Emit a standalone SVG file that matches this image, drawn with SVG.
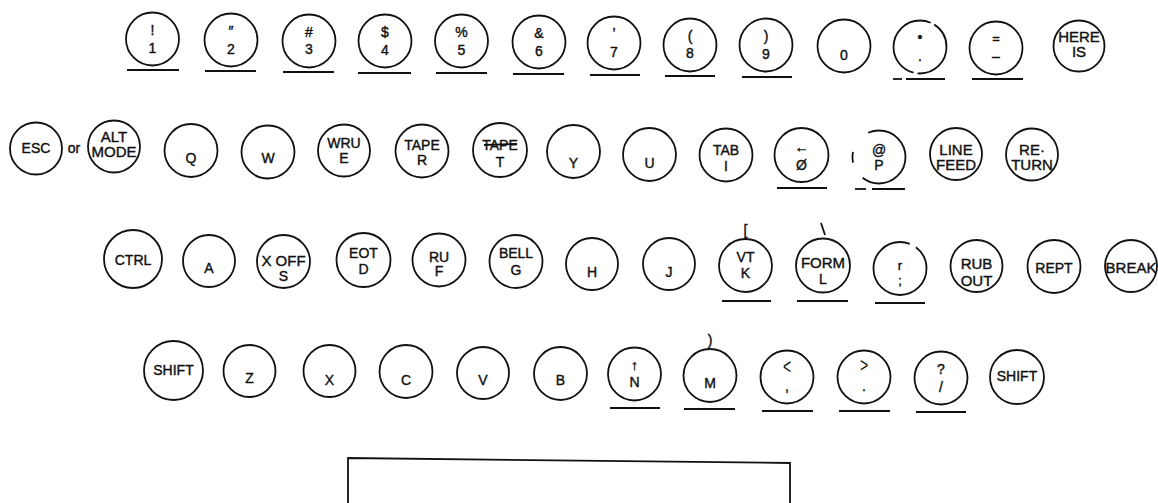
<svg xmlns="http://www.w3.org/2000/svg" width="1158" height="503" viewBox="0 0 1158 503">
<style>
circle,.k{fill:none;stroke:#111;stroke-width:1.8}
.u{stroke:#111;stroke-width:1.8;fill:none}
text{font-family:"Liberation Sans",Arial,sans-serif;font-size:14px;fill:#111;stroke:#111;stroke-width:0.4;text-anchor:middle}
.s{font-size:13px}
.b{font-size:15px}
.t{stroke-width:0}
</style>
<rect width="1158" height="503" fill="#fff"/>
<!-- Row 1 -->
<g id="k1"><circle cx="152.5" cy="39" r="26.5"/><text x="152.5" y="35">!</text><text x="152.5" y="53">1</text><line class="u" x1="127" y1="70" x2="179" y2="70"/></g>
<g id="k2"><circle cx="231" cy="40" r="26.5"/><text x="231" y="36">″</text><text x="231" y="54">2</text><line class="u" x1="205" y1="71" x2="256" y2="71"/></g>
<g id="k3"><circle cx="309" cy="41" r="26.5"/><text x="309" y="37">#</text><text x="309" y="54">3</text><line class="u" x1="283" y1="72" x2="334" y2="72"/></g>
<g id="k4"><circle cx="385" cy="41" r="26.5"/><text x="385" y="37">$</text><text x="385" y="55">4</text><line class="u" x1="358" y1="73" x2="411" y2="73"/></g>
<g id="k5"><circle cx="461.5" cy="41" r="26.5"/><text x="461.5" y="37">%</text><text x="461.5" y="55">5</text><line class="u" x1="436" y1="73" x2="487" y2="73"/></g>
<g id="k6"><circle cx="539" cy="42" r="26.5"/><text x="539" y="38">&amp;</text><text x="539" y="56">6</text><line class="u" x1="513" y1="74" x2="564" y2="74"/></g>
<g id="k7"><circle cx="614" cy="43" r="26.5"/><text x="614" y="38">’</text><text x="614" y="57">7</text><line class="u" x1="590" y1="75" x2="640" y2="75"/></g>
<g id="k8"><circle cx="690" cy="45" r="26.5"/><text x="690" y="41">(</text><text x="690" y="58">8</text><line class="u" x1="665" y1="76" x2="715" y2="76"/></g>
<g id="k9"><circle cx="766" cy="45" r="26.5"/><text x="766" y="41">)</text><text x="766" y="59">9</text><line class="u" x1="742" y1="77" x2="792" y2="77"/></g>
<g id="k0"><circle cx="844" cy="46" r="26.5"/><text x="844" y="60">0</text></g>
<g id="kcolon"><circle cx="920" cy="47" r="26.5" stroke-dasharray="44 4 87 4 40"/><text x="920" y="42" font-size="16">•</text><text x="920" y="61">.</text><line class="u" x1="893" y1="79" x2="902" y2="79"/><line class="u" x1="906" y1="79" x2="945" y2="79"/></g>
<g id="kminus"><circle cx="996" cy="48" r="26.5"/><text x="996" y="43" class="s">=</text><text x="996" y="61">–</text><line class="u" x1="972" y1="79" x2="1023" y2="79"/></g>
<g id="khere"><circle cx="1079" cy="46" r="25.5"/><text x="1079" y="42" class="b">HERE</text><text x="1079" y="57" class="b">IS</text></g>
<!-- Row 2 -->
<g id="kesc"><circle cx="36" cy="148.5" r="26"/><text x="36" y="153">ESC</text></g>
<text x="74" y="153">or</text>
<g id="kalt"><circle cx="114" cy="146.5" r="26"/><text x="114" y="142" class="b">ALT</text><text x="114" y="157" class="b">MODE</text></g>
<g id="kq"><circle cx="191" cy="150.5" r="26.5"/><text x="191" y="163">Q</text></g>
<g id="kw"><circle cx="268" cy="152" r="26.5"/><text x="268" y="163">W</text></g>
<g id="ke"><circle cx="344" cy="150.5" r="26"/><text x="344" y="148">WRU</text><text x="344" y="163">E</text></g>
<g id="kr"><circle cx="422" cy="151" r="26.5"/><text x="422" y="150">TAPE</text><text x="422" y="165">R</text></g>
<g id="kt"><circle cx="500" cy="150" r="27"/><text x="500" y="150">TAPE</text><line class="u" x1="484" y1="145" x2="517" y2="144"/><text x="500" y="167">T</text></g>
<g id="ky"><circle cx="573.5" cy="151.5" r="26.5"/><text x="573.5" y="168">Y</text></g>
<g id="ku"><circle cx="649.5" cy="154.5" r="26.5"/><text x="649.5" y="168">U</text></g>
<g id="ki"><circle cx="726" cy="155" r="26.5"/><text x="726" y="155">TAB</text><text x="726" y="171">I</text></g>
<g id="ko"><circle cx="801.5" cy="155" r="27"/><text x="801.5" y="152">←</text><text x="801.5" y="170">Ø</text><line class="u" x1="777" y1="188" x2="827" y2="188"/></g>
<g id="kp"><circle cx="879" cy="157" r="26.5" stroke-dasharray="59 18 11 25 54"/><text x="879" y="155">@</text><text x="879" y="170">P</text><line class="u" x1="855" y1="189" x2="866" y2="189"/><line class="u" x1="872" y1="189" x2="905" y2="189"/></g>
<g id="klf"><circle cx="956" cy="154" r="26"/><text x="956" y="155" class="b">LINE</text><text x="956" y="170" class="b">FEED</text></g>
<g id="kret"><circle cx="1032" cy="154.5" r="26"/><text x="1032" y="155" class="b">RE·</text><text x="1032" y="170" class="b">TURN</text></g>
<!-- Row 3 -->
<g id="kctrl"><circle cx="133" cy="259" r="29"/><text x="133" y="265">CTRL</text></g>
<g id="ka"><circle cx="209" cy="261" r="26"/><text x="209" y="273">A</text></g>
<g id="ks"><circle cx="283.5" cy="261.5" r="26.5"/><text x="283.5" y="266" class="b">X OFF</text><text x="283.5" y="281">S</text></g>
<g id="kd"><circle cx="363.5" cy="260" r="27"/><text x="363.5" y="258">EOT</text><text x="363.5" y="274">D</text></g>
<g id="kf"><circle cx="439" cy="260" r="26.5"/><text x="439" y="262">RU</text><text x="439" y="276">F</text></g>
<g id="kg"><circle cx="516" cy="261.5" r="26.5"/><text x="516" y="258">BELL</text><text x="516" y="275">G</text></g>
<g id="kh"><circle cx="592" cy="264" r="26"/><text x="592" y="277">H</text></g>
<g id="kj"><circle cx="669" cy="264" r="26"/><text x="669" y="277">J</text></g>
<g id="kk"><text x="745.5" y="235">[</text><circle cx="745.5" cy="265.5" r="26.5"/><text x="745.5" y="262">VT</text><text x="745.5" y="278">K</text><line class="u" x1="722" y1="301" x2="771" y2="301"/></g>
<g id="kl"><line class="u" x1="821" y1="223" x2="825" y2="235" stroke-width="1.2"/><circle cx="823" cy="265.5" r="27"/><text x="823" y="268" class="b">FORM</text><text x="823" y="284">L</text><line class="u" x1="797" y1="301" x2="848" y2="301"/></g>
<g id="ksemi"><circle cx="900" cy="268.5" r="26.5" stroke-dasharray="134 7 26"/><text x="900" y="270" class="s">r</text><text x="900" y="285" class="s">;</text><line class="u" x1="875" y1="303" x2="925" y2="303"/></g>
<g id="krub"><circle cx="976.5" cy="266" r="26"/><text x="976.5" y="269" class="b">RUB</text><text x="976.5" y="286" class="b">OUT</text></g>
<g id="krept"><circle cx="1054" cy="266.5" r="26.5"/><text x="1054" y="273">REPT</text></g>
<g id="kbreak"><circle cx="1131" cy="266" r="26"/><text x="1131" y="273" class="b">BREAK</text></g>
<!-- Row 4 -->
<g id="kshiftl"><circle cx="173.5" cy="370.5" r="29.5"/><text x="173.5" y="375">SHIFT</text></g>
<g id="kz"><circle cx="249.5" cy="371" r="26"/><text x="249.5" y="383">Z</text></g>
<g id="kx"><circle cx="329.5" cy="371" r="26"/><text x="329.5" y="385">X</text></g>
<g id="kc"><circle cx="406" cy="371.5" r="26.5"/><text x="406" y="385">C</text></g>
<g id="kv"><circle cx="483" cy="373" r="26"/><text x="483" y="385">V</text></g>
<g id="kb"><circle cx="560.5" cy="373.5" r="26.5"/><text x="560.5" y="385">B</text></g>
<g id="kn"><circle cx="634.5" cy="374" r="26.5"/><text x="634.5" y="370">↑</text><text x="634.5" y="387">N</text><line class="u" x1="610" y1="408" x2="660" y2="408"/></g>
<g id="km"><text x="710" y="345">)</text><circle cx="710" cy="375.5" r="26.5"/><text x="710" y="388">M</text><line class="u" x1="684" y1="409" x2="735" y2="409"/></g>
<g id="kcomma"><circle cx="787" cy="377" r="26.5"/><text class="t" transform="translate(787,374) scale(1,1.6)" x="0" y="0" font-size="16">&lt;</text><text x="787" y="391">,</text><line class="u" x1="762" y1="411" x2="813" y2="411"/></g>
<g id="kperiod"><circle cx="864" cy="377" r="26.5"/><text class="t" transform="translate(864,372) scale(1,1.4)" x="0" y="0" font-size="16">&gt;</text><text x="864" y="391">.</text><line class="u" x1="839" y1="411" x2="890" y2="411"/></g>
<g id="kslash"><circle cx="941" cy="378" r="26.5"/><text x="941" y="374">?</text><text x="941" y="392">/</text><line class="u" x1="916" y1="412" x2="966" y2="412"/></g>
<g id="kshiftr"><circle cx="1017" cy="377" r="27"/><text x="1017" y="381">SHIFT</text></g>
<!-- Space bar -->
<g id="space"><path class="k" d="M348,503 L348,458 L790,463 L790,503"/></g>
<g id="connectors"></g>
</svg>
